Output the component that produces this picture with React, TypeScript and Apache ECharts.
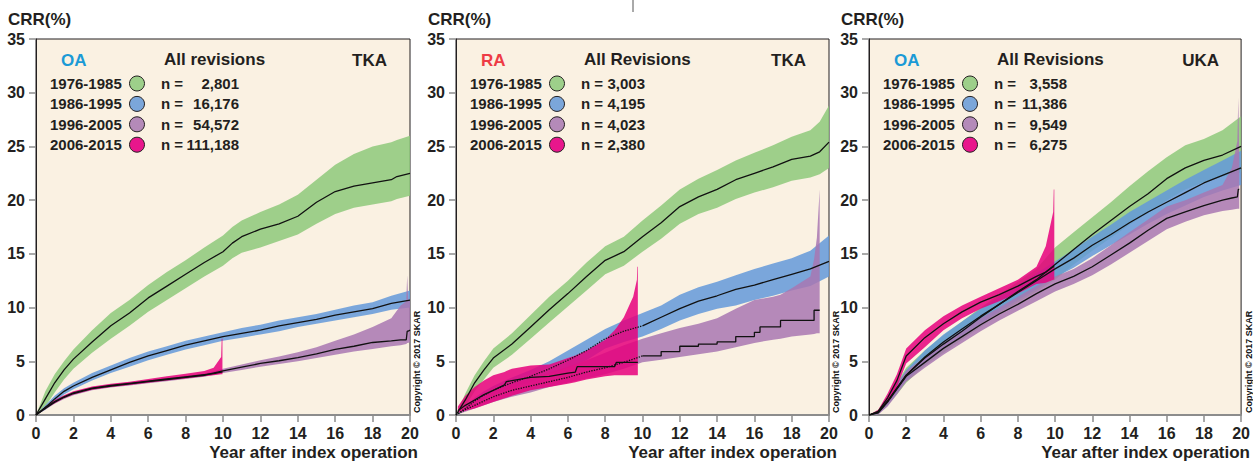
import React, { useEffect, useRef } from "react";
import * as echarts from "echarts";

// Each row: [year, lower CI, estimate, upper CI] in CRR (%)
type Row = [number, number, number, number];

const periods = ["1976-1985", "1986-1995", "1996-2005", "2006-2015"];
const tkaOaCounts = ["2,801", "16,176", "54,572", "111,188"];
const raTkaCounts = ["3,003", "4,195", "4,023", "2,380"];
const ukaOaCounts = ["3,558", "11,386", "9,549", "6,275"];
const xTickYears = { min: 0, max: 20, step: 2 };
const yTickCrr = { min: 0, max: 35, step: 5 };

// ---------- Panel 1: OA, TKA ----------
const tkaOa1976: Row[] = [
  [0, 0, 0, 0], [0.5, 0.8, 1.5, 2.2], [1, 2.1, 3.0, 3.8], [1.5, 3.3, 4.2, 5.0], [2, 4.3, 5.2, 6.1],
  [3, 5.8, 6.8, 7.9], [4, 7.1, 8.3, 9.5], [5, 8.3, 9.5, 10.7], [6, 9.6, 10.9, 12.1], [7, 10.7, 12.0, 13.3],
  [8, 11.8, 13.1, 14.4], [9, 12.9, 14.2, 15.6], [10, 13.9, 15.2, 16.7], [10.5, 14.6, 16.0, 17.5],
  [11, 15.1, 16.6, 18.1], [12, 15.6, 17.3, 18.9], [13, 16.2, 17.8, 19.6], [14, 16.8, 18.5, 20.5],
  [15, 17.8, 19.8, 21.9], [16, 18.7, 20.8, 23.3], [17, 19.3, 21.3, 24.3], [18, 19.6, 21.6, 25.0],
  [19, 19.9, 21.9, 25.4], [19.3, 20.1, 22.2, 25.6], [20, 20.4, 22.5, 26.0],
];
const tkaOa1986: Row[] = [
  [0, 0, 0, 0], [0.5, 0.5, 0.7, 0.9], [1, 1.2, 1.5, 1.8], [1.5, 1.9, 2.2, 2.5], [2, 2.4, 2.7, 3.0],
  [3, 3.2, 3.5, 3.9], [4, 3.9, 4.2, 4.6], [5, 4.5, 4.9, 5.3], [6, 5.1, 5.5, 5.9], [7, 5.6, 6.0, 6.4],
  [8, 6.1, 6.5, 6.9], [9, 6.5, 6.9, 7.3], [10, 6.9, 7.3, 7.7], [11, 7.2, 7.6, 8.1], [12, 7.5, 7.9, 8.4],
  [13, 7.8, 8.3, 8.8], [14, 8.2, 8.6, 9.1], [15, 8.5, 8.9, 9.4], [16, 8.8, 9.3, 9.8], [17, 9.1, 9.6, 10.2],
  [18, 9.4, 9.9, 10.5], [19, 9.8, 10.4, 11.1], [20, 10.0, 10.7, 11.6],
];
const tkaOa1996: Row[] = [
  [0, 0, 0, 0], [0.5, 0.5, 0.6, 0.7], [1, 1.05, 1.2, 1.35], [1.5, 1.5, 1.65, 1.8], [2, 1.85, 2.0, 2.15],
  [3, 2.3, 2.45, 2.6], [4, 2.55, 2.7, 2.85], [5, 2.75, 2.9, 3.05], [6, 2.95, 3.1, 3.25], [7, 3.15, 3.3, 3.45],
  [8, 3.35, 3.5, 3.65], [9, 3.55, 3.7, 3.85], [10, 3.9, 4.1, 4.3], [11, 4.2, 4.45, 4.7], [12, 4.5, 4.8, 5.1],
  [13, 4.75, 5.05, 5.45], [14, 5.0, 5.35, 5.85], [15, 5.3, 5.7, 6.3], [16, 5.6, 6.1, 6.9], [17, 5.9, 6.4, 7.5],
  [18, 6.15, 6.75, 8.2], [19, 6.4, 6.9, 9.0], [19.5, 6.5, 7.0, 10.2], [19.8, 6.6, 7.0, 10.6],
  [19.85, 6.7, 7.8, 13.0], [19.9, 6.7, 7.8, 10.7], [20, 6.8, 7.9, 10.8],
];
const tkaOa2006: Row[] = [
  [0, 0, 0, 0], [0.5, 0.6, 0.7, 0.8], [1, 1.1, 1.25, 1.4], [1.5, 1.55, 1.7, 1.85], [2, 1.9, 2.05, 2.2],
  [3, 2.35, 2.5, 2.65], [4, 2.6, 2.75, 2.9], [5, 2.8, 2.95, 3.1], [6, 3.0, 3.15, 3.35], [7, 3.2, 3.35, 3.6],
  [8, 3.4, 3.55, 3.85], [9, 3.6, 3.75, 4.1], [9.5, 3.7, 3.85, 4.4], [9.9, 3.8, 4.0, 5.4],
  [9.93, 3.8, 4.0, 7.1], [9.97, 3.8, 4.0, 7.1],
];

// ---------- Panel 2: RA, TKA ----------
const raTka1976: Row[] = [
  [0, 0, 0, 0], [0.5, 0.8, 1.4, 2.0], [1, 2.2, 3.0, 3.7], [1.5, 3.3, 4.2, 5.0], [2, 4.4, 5.3, 6.2],
  [3, 5.6, 6.6, 7.6], [4, 7.1, 8.2, 9.3], [5, 8.6, 9.8, 11.0], [6, 10.1, 11.3, 12.5], [7, 11.6, 12.9, 14.2],
  [8, 13.1, 14.4, 15.7], [9, 13.9, 15.2, 16.6], [10, 15.2, 16.6, 18.1], [11, 16.4, 17.9, 19.5],
  [12, 17.8, 19.4, 21.0], [13, 18.7, 20.3, 22.0], [14, 19.3, 21.0, 22.8], [15, 20.1, 21.9, 23.7],
  [16, 20.7, 22.5, 24.4], [17, 21.2, 23.1, 25.1], [18, 21.8, 23.8, 25.9], [19, 22.1, 24.1, 26.5],
  [19.5, 22.4, 24.5, 27.3], [20, 23.0, 25.4, 28.8],
];
const raTka1986: Row[] = [
  [0, 0, 0, 0], [0.5, 0.4, 0.6, 0.8], [1, 1.0, 1.3, 1.6], [1.5, 1.5, 1.85, 2.2], [2, 1.9, 2.3, 2.7],
  [3, 2.5, 3.0, 3.5], [4, 3.1, 3.6, 4.2], [5, 3.8, 4.3, 5.0], [6, 4.4, 5.1, 6.0], [7, 5.1, 6.0, 7.0],
  [8, 6.2, 7.1, 8.0], [9, 6.8, 7.8, 8.8], [10, 7.3, 8.3, 9.5], [11, 8.0, 9.1, 10.2], [12, 8.8, 9.9, 11.2],
  [13, 9.4, 10.6, 11.9], [14, 9.9, 11.1, 12.4], [15, 10.2, 11.7, 13.0], [16, 10.7, 12.1, 13.6],
  [17, 11.1, 12.6, 14.1], [18, 11.6, 13.1, 14.6], [19, 12.0, 13.6, 15.3], [20, 12.9, 14.3, 16.7],
];
const raTka1996: Row[] = [
  [0, 0, 0, 0], [0.5, 0.3, 0.5, 0.7], [1, 0.6, 0.9, 1.2], [1.5, 0.9, 1.3, 1.7], [2, 1.2, 1.7, 2.2],
  [3, 1.7, 2.3, 2.9], [4, 2.1, 2.7, 3.4], [5, 2.6, 3.1, 3.9], [6, 3.0, 3.5, 4.5], [7, 3.4, 4.0, 5.1],
  [8, 3.8, 4.4, 5.8], [9, 4.3, 4.9, 6.5], [10, 4.9, 5.5, 7.1], [11, 5.15, 5.9, 7.6], [12, 5.4, 6.4, 8.1],
  [13, 5.65, 6.6, 8.5], [14, 5.9, 6.8, 9.0], [15, 6.3, 7.3, 9.9], [16, 6.7, 7.7, 10.7], [16.3, 6.8, 8.2, 10.8],
  [17, 7.0, 8.2, 11.0], [17.4, 7.1, 8.8, 11.2], [18, 7.3, 8.8, 11.8], [19, 7.5, 8.8, 12.9],
  [19.2, 7.55, 9.75, 14.5], [19.35, 7.6, 9.75, 16.5], [19.5, 7.6, 9.75, 21.0],
];
const raTka2006: Row[] = [
  [0.1, 0.2, 0.4, 0.8], [0.5, 0.4, 0.9, 1.8], [1, 0.6, 1.4, 2.6], [1.5, 0.9, 1.9, 3.2], [2, 1.2, 2.3, 3.7],
  [2.6, 1.55, 2.8, 4.0], [2.7, 1.6, 3.1, 4.1], [3, 1.8, 3.2, 4.3], [4, 2.3, 3.5, 4.6], [5, 2.6, 3.6, 4.7],
  [6, 2.9, 3.9, 5.3], [6.4, 3.05, 4.0, 5.55], [6.5, 3.1, 4.5, 5.6], [7, 3.3, 4.5, 6.0], [8, 3.6, 4.5, 7.0],
  [8.5, 3.7, 4.5, 7.9], [8.6, 3.7, 4.9, 8.1], [9, 3.7, 4.9, 9.1], [9.5, 3.7, 4.9, 11.0], [9.7, 3.7, 4.9, 12.6],
  [9.72, 3.7, 4.9, 13.8], [9.75, 3.7, 4.9, 13.8],
];

// ---------- Panel 3: OA, UKA ----------
const ukaOa1976: Row[] = [
  [0, 0, 0, 0], [0.5, 0.1, 0.3, 0.5], [1, 0.9, 1.3, 1.7], [1.5, 1.9, 2.5, 3.0], [2, 3.0, 3.7, 4.4],
  [3, 4.6, 5.3, 6.0], [4, 5.8, 6.6, 7.4], [5, 7.0, 7.8, 8.7], [6, 8.2, 9.1, 10.0], [7, 9.4, 10.3, 11.2],
  [8, 10.5, 11.5, 12.4], [9, 11.5, 12.6, 13.6], [10, 12.6, 14.0, 15.6], [11, 14.0, 15.4, 17.0],
  [12, 15.3, 16.8, 18.4], [13, 16.5, 18.1, 19.8], [14, 17.7, 19.4, 21.3], [15, 18.8, 20.6, 22.7],
  [16, 20.0, 22.0, 24.0], [17, 21.0, 23.0, 25.1], [18, 21.7, 23.7, 25.7], [19, 22.2, 24.2, 26.5],
  [20, 22.6, 25.0, 27.8],
];
const ukaOa1986: Row[] = [
  [0, 0, 0, 0], [0.5, 0.1, 0.25, 0.4], [1, 0.9, 1.3, 1.6], [1.5, 2.0, 2.5, 2.9], [2, 3.2, 3.7, 4.2],
  [3, 4.8, 5.4, 6.0], [4, 6.1, 6.8, 7.5], [5, 7.3, 8.0, 8.7], [6, 8.5, 9.2, 9.9], [7, 9.6, 10.3, 11.0],
  [8, 10.7, 11.4, 12.1], [9, 11.7, 12.5, 13.2], [10, 12.8, 13.6, 14.3], [11, 13.7, 14.6, 15.4],
  [12, 14.8, 15.8, 16.6], [13, 15.8, 16.8, 17.7], [14, 16.8, 17.9, 18.9], [15, 17.8, 18.9, 19.9],
  [16, 18.7, 19.8, 20.9], [17, 19.5, 20.7, 21.9], [18, 20.3, 21.6, 22.8], [19, 20.9, 22.3, 23.7],
  [20, 21.4, 23.0, 24.6],
];
const ukaOa1996: Row[] = [
  [0, 0, 0, 0], [0.5, 0.05, 0.2, 0.35], [1, 0.8, 1.2, 1.5], [1.5, 1.9, 2.4, 2.8], [2, 3.1, 3.6, 4.1],
  [3, 4.4, 4.9, 5.4], [4, 5.6, 6.2, 6.7], [5, 6.7, 7.3, 7.9], [6, 7.8, 8.4, 9.0], [7, 8.8, 9.4, 10.0],
  [8, 9.7, 10.3, 11.0], [9, 10.6, 11.3, 12.0], [10, 11.5, 12.2, 12.9], [11, 12.2, 12.9, 13.6],
  [12, 13.0, 13.8, 14.6], [13, 14.0, 14.9, 15.8], [14, 15.1, 16.0, 17.0], [15, 16.2, 17.2, 18.2],
  [16, 17.3, 18.3, 19.4], [17, 18.0, 18.9, 20.0], [18, 18.6, 19.5, 20.7], [19, 19.0, 20.0, 21.4],
  [19.5, 19.1, 20.2, 23.0], [19.8, 19.2, 20.3, 25.5], [19.85, 19.2, 21.0, 29.5], [19.9, 19.2, 21.0, 24.0],
];
const ukaOa2006: Row[] = [
  [0, 0, 0, 0], [0.5, 0.2, 0.35, 0.5], [1, 1.2, 1.6, 2.0], [1.5, 2.6, 3.2, 3.8], [2, 4.8, 5.5, 6.2],
  [3, 6.3, 7.2, 7.9], [4, 7.9, 8.5, 9.2], [5, 9.0, 9.6, 10.2], [6, 9.9, 10.5, 11.0], [7, 10.6, 11.2, 11.8],
  [8, 11.3, 12.0, 12.6], [9, 12.2, 12.9, 13.8], [9.5, 12.3, 13.3, 15.7], [9.9, 12.6, 13.8, 18.9],
  [9.93, 12.6, 13.8, 21.0], [9.96, 12.6, 13.8, 21.0],
];

const FONT = '"Liberation Sans", Arial, Helvetica, sans-serif';
const INK = "#231f20";
const BAND_FILLS = [
  "rgba(141,201,122,0.85)",
  "rgba(99,153,217,0.85)",
  "rgba(168,119,177,0.85)",
  "rgba(230,0,125,0.85)",
];
const DOT_FILLS = ["#9dcf8a", "#7ba6da", "#b48ab9", "#e8168c"];

interface Panel {
  left: number;
  width: number;
  group: string;
  groupColor: string;
  title: string;
  joint: string;
  counts: string[];
  nRight: number;
  data: Row[][];
  step: boolean[];
  dottedUntil: (number | null)[];
}

const TOP = 39;
const HEIGHT = 376;

const panels: Panel[] = [
  {
    left: 36, width: 374, group: "OA", groupColor: "#1b9ad6", title: "All revisions", joint: "TKA",
    counts: tkaOaCounts, nRight: 203,
    data: [tkaOa1976, tkaOa1986, tkaOa1996, tkaOa2006],
    step: [false, false, false, false], dottedUntil: [null, null, null, null],
  },
  {
    left: 456, width: 373, group: "RA", groupColor: "#ee3b45", title: "All Revisions", joint: "TKA",
    counts: raTkaCounts, nRight: 189,
    data: [raTka1976, raTka1986, raTka1996, raTka2006],
    step: [false, false, true, false], dottedUntil: [null, 10, 10, null],
  },
  {
    left: 869, width: 373, group: "OA", groupColor: "#1b9ad6", title: "All Revisions", joint: "UKA",
    counts: ukaOaCounts, nRight: 198,
    data: [ukaOa1976, ukaOa1986, ukaOa1996, ukaOa2006],
    step: [false, false, false, false], dottedUntil: [null, null, null, null],
  },
];

function bandSeries(gi: number, rows: Row[], fill: string) {
  return {
    type: "custom",
    xAxisIndex: gi,
    yAxisIndex: gi,
    silent: true,
    z: 2,
    data: rows.map((r) => [r[0], r[1], r[3]]),
    encode: { x: 0, y: [1, 2] },
    renderItem: (params: any, api: any) => {
      if (params.dataIndex !== 0) return null;
      const upper = rows.map((r) => api.coord([r[0], r[3]]));
      const lower = rows.map((r) => api.coord([r[0], r[1]])).reverse();
      return {
        type: "polygon",
        shape: { points: upper.concat(lower) },
        style: { fill },
      };
    },
  };
}

function lineSeries(gi: number, pts: number[][], step: boolean, dotted: boolean) {
  return {
    type: "line",
    xAxisIndex: gi,
    yAxisIndex: gi,
    data: pts,
    symbol: "none",
    silent: true,
    step: step ? "end" : false,
    z: 5,
    lineStyle: { color: "#111", width: 1.3, type: dotted ? "dotted" : "solid" },
  };
}

function buildOption() {
  const grid: any[] = [];
  const xAxis: any[] = [];
  const yAxis: any[] = [];
  const series: any[] = [];
  const graphic: any[] = [];
  const txt = (x: number, y: number, text: string, size: number, fill = INK, align = "left") => ({
    type: "text",
    x,
    y,
    silent: true,
    style: {
      text,
      fill,
      font: `bold ${size}px ${FONT}`,
      textAlign: align,
      textVerticalAlign: "middle",
    },
  });

  panels.forEach((p, gi) => {
    grid.push({
      left: p.left, top: TOP, width: p.width, height: HEIGHT,
      show: true, backgroundColor: "#faf1e2", borderColor: INK, borderWidth: 1,
    });
    xAxis.push({
      gridIndex: gi, type: "value",
      min: xTickYears.min, max: xTickYears.max, interval: xTickYears.step,
      axisLine: { show: true, onZero: false, lineStyle: { color: "#8c8c8c", width: 2 } },
      axisTick: { show: true, length: 7, lineStyle: { color: "#8c8c8c", width: 1.5 } },
      axisLabel: {
        show: true, fontSize: 16, fontWeight: "bold", color: INK, fontFamily: FONT, margin: 10,
        showMinLabel: true, showMaxLabel: true,
      },
      splitLine: { show: false },
    });
    yAxis.push({
      gridIndex: gi, type: "value",
      min: yTickCrr.min, max: yTickCrr.max, interval: yTickCrr.step,
      axisLine: { show: true, lineStyle: { color: INK, width: 1 } },
      axisTick: { show: true, length: 7, lineStyle: { color: "#8c8c8c", width: 1.5 } },
      axisLabel: { show: true, fontSize: 16, fontWeight: "bold", color: INK, fontFamily: FONT, margin: 11 },
      splitLine: { show: false },
    });

    p.data.forEach((rows, si) => series.push(bandSeries(gi, rows, BAND_FILLS[si])));
    p.data.forEach((rows, si) => {
      const d = p.dottedUntil[si];
      if (d == null) {
        series.push(lineSeries(gi, rows.map((r) => [r[0], r[2]]), p.step[si], false));
      } else {
        series.push(lineSeries(gi, rows.filter((r) => r[0] <= d).map((r) => [r[0], r[2]]), false, true));
        series.push(lineSeries(gi, rows.filter((r) => r[0] >= d).map((r) => [r[0], r[2]]), p.step[si], false));
      }
    });

    const L = p.left;
    const R = p.left + p.width;
    graphic.push(txt(L - 28, 19.5, "CRR(%)", 17));
    graphic.push(txt(R + 8, 452, "Year after index operation", 17, INK, "right"));
    graphic.push(txt(L + 25, 60, p.group, 17, p.groupColor));
    graphic.push(txt(L + 128, 59, p.title, 17));
    graphic.push(txt(R - 23, 60, p.joint, 17, INK, "right"));
    periods.forEach((per, i) => {
      const y = 83.5 + 20.4 * i;
      graphic.push(txt(L + 14, y, per, 15));
      graphic.push({
        type: "circle", silent: true,
        shape: { cx: L + 101, cy: y, r: 7.5 },
        style: { fill: DOT_FILLS[i], stroke: INK, lineWidth: 1 },
      });
      graphic.push(txt(L + 125, y, "n =", 15));
      graphic.push(txt(L + p.nRight, y, p.counts[i], 15, INK, "right"));
    });
    graphic.push({
      type: "text", x: R + 7, y: 413, rotation: Math.PI / 2, silent: true,
      style: {
        text: "Copyright \u00a9 2017 SKAR", fill: "#111",
        font: `bold 9px ${FONT}`, textAlign: "left", textVerticalAlign: "middle",
      },
    });
  });

  graphic.push({
    type: "line", silent: true,
    shape: { x1: 633, y1: 0, x2: 633, y2: 12 },
    style: { stroke: "#555", lineWidth: 1 },
  });

  return {
    animation: false,
    backgroundColor: "#ffffff",
    textStyle: { fontFamily: FONT },
    grid, xAxis, yAxis, series, graphic,
  };
}

export default function App() {
  const ref = useRef<HTMLDivElement>(null);
  useEffect(() => {
    document.body.style.margin = "0";
    if (!ref.current) return;
    const chart = echarts.init(ref.current, undefined, { renderer: "svg" });
    chart.setOption(buildOption() as any);
    return () => chart.dispose();
  }, []);
  return <div ref={ref} style={{ width: 1253, height: 462 }} />;
}
